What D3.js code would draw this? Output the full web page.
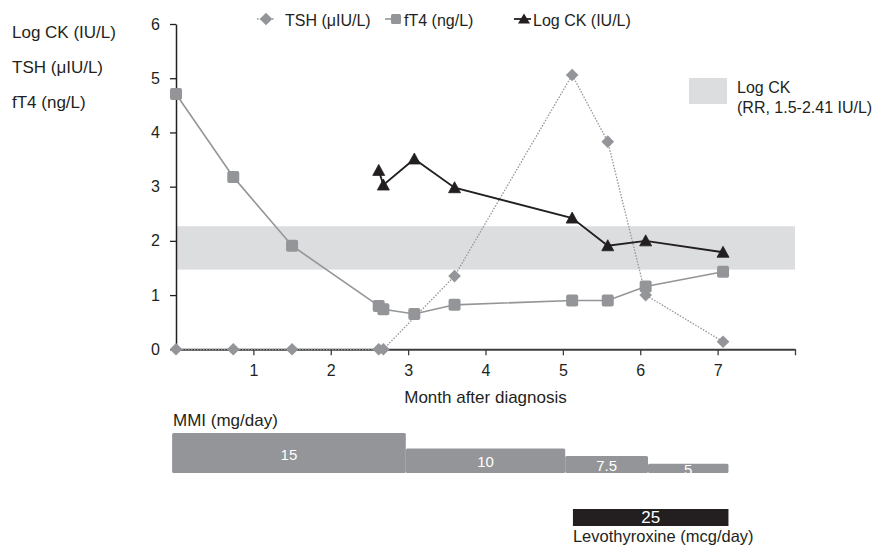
<!DOCTYPE html>
<html>
<head>
<meta charset="utf-8">
<script src="https://cdn.jsdelivr.net/npm/d3@7"></script>
<style>
  body { margin: 0; background: #fff; }
  svg { display: block; font-family: "Liberation Sans", Arial, sans-serif; }
</style>
</head>
<body>
<svg id="chart" width="881" height="547"></svg>
<script>
// visit months (x) and values per series, null = not measured
const visitMonth = [0, 0.74, 1.5, 2.62, 2.68, 3.08, 3.6, 5.12, 5.58, 6.07, 7.07];
const ft4Vals = [4.71, 3.18, 1.91, 0.8, 0.74, 0.65, 0.82, 0.9, 0.9, 1.16, 1.43];
const tshVals = [0, 0, 0, 0, 0, null, 1.35, 5.06, 3.83, 1.0, 0.14];
const ckVals = [null, null, null, 3.3, 3.03, 3.51, 2.98, 2.42, 1.91, 2.0, 1.79];

// band drawn for the Log CK reference range
const ckBand = [1.47, 2.27];

const yTicks = [0, 1, 2, 3, 4, 5, 6];
const xTicks = [1, 2, 3, 4, 5, 6, 7, 8];

// MMI dose periods
const mmiStart = [-0.05, 2.97, 5.03, 6.1];
const mmiEnd = [2.97, 5.03, 6.1, 7.14];
const mmiDose = [15, 10, 7.5, 5];

// levothyroxine period
const levoStart = [5.13];
const levoEnd = [7.14];
const levoDose = [25];

const grey = "#939598";
const ink = "#231f20";

const svg = d3.select("#chart");

const x = d3.scaleLinear().domain([0, 8]).range([176, 795]);
const y = d3.scaleLinear().domain([0, 6]).range([349.3, 24]);

// reference band
svg.append("rect")
  .attr("x", x(0))
  .attr("y", y(ckBand[1]))
  .attr("width", x(8) - x(0))
  .attr("height", y(ckBand[0]) - y(ckBand[1]))
  .attr("fill", "#dcdddf");

// axes
const yAxis = svg.append("g")
  .attr("transform", `translate(${x(0)},0)`)
  .call(d3.axisLeft(y).tickValues(yTicks).tickSize(6).tickSizeOuter(0).tickPadding(10)
    .tickFormat(d3.format("d")));
yAxis.selectAll("text").attr("font-size", 16).attr("fill", ink).attr("font-family", "Liberation Sans, Arial, sans-serif");
yAxis.selectAll("line").attr("stroke", ink).attr("stroke-width", 1.3);
yAxis.select(".domain").attr("stroke", ink).attr("stroke-width", 1.5);

const xAxis = svg.append("g")
  .attr("transform", `translate(0,${y(0)})`)
  .call(d3.axisBottom(x).tickValues(xTicks).tickSize(6).tickSizeOuter(0).tickPadding(9)
    .tickFormat(d => d === 8 ? "" : d));
xAxis.selectAll("text").attr("font-size", 16).attr("fill", ink).attr("font-family", "Liberation Sans, Arial, sans-serif");
xAxis.selectAll("line").attr("stroke", "#3c3c3c").attr("stroke-width", 1.3);
xAxis.select(".domain").attr("stroke", "#3c3c3c").attr("stroke-width", 2);

svg.append("text")
  .attr("x", (x(0) + x(8)) / 2)
  .attr("y", 403)
  .attr("text-anchor", "middle")
  .attr("font-size", 17)
  .attr("fill", ink)
  .text("Month after diagnosis");

// series helpers
function pts(vals) {
  return visitMonth.map((m, i) => ({ m: m, v: vals[i] })).filter(d => d.v !== null);
}
const line = d3.line().x(d => x(d.m)).y(d => y(d.v));

const tshPts = pts(tshVals);
const ft4Pts = pts(ft4Vals);
const ckPts = pts(ckVals);

// TSH (dotted + diamonds)
svg.append("path")
  .datum(tshPts)
  .attr("d", line)
  .attr("fill", "none")
  .attr("stroke", grey)
  .attr("stroke-width", 1.3)
  .attr("stroke-dasharray", "1.5,1.5");

const diamond = d3.symbol().type(d3.symbolSquare).size(80);
svg.selectAll(".tsh")
  .data(tshPts)
  .join("path")
  .attr("class", "tsh")
  .attr("d", diamond)
  .attr("transform", d => `translate(${x(d.m)},${y(d.v)}) rotate(45)`)
  .attr("fill", grey);

// fT4 (solid + squares)
svg.append("path")
  .datum(ft4Pts)
  .attr("d", line)
  .attr("fill", "none")
  .attr("stroke", grey)
  .attr("stroke-width", 1.6);

svg.selectAll(".ft4")
  .data(ft4Pts)
  .join("rect")
  .attr("class", "ft4")
  .attr("x", d => x(d.m) - 6)
  .attr("y", d => y(d.v) - 6)
  .attr("width", 12)
  .attr("height", 12)
  .attr("rx", 2)
  .attr("fill", grey);

// Log CK (black + triangles)
svg.append("path")
  .datum(ckPts)
  .attr("d", line)
  .attr("fill", "none")
  .attr("stroke", ink)
  .attr("stroke-width", 1.8);

const tri = "M0,-6L6,5L-6,5Z";
svg.selectAll(".ck")
  .data(ckPts)
  .join("path")
  .attr("class", "ck")
  .attr("d", tri)
  .attr("stroke", ink)
  .attr("stroke-width", 0.8)
  .attr("stroke-linejoin", "round")
  .attr("transform", d => `translate(${x(d.m)},${y(d.v)})`)
  .attr("fill", ink);

// left labels
const leftLabels = ["Log CK (IU/L)", "TSH (μIU/L)", "fT4 (ng/L)"];
svg.selectAll(".leftlab")
  .data(leftLabels)
  .join("text")
  .attr("class", "leftlab")
  .attr("x", 12)
  .attr("y", (d, i) => 38 + i * 35)
  .attr("font-size", 17)
  .attr("fill", ink)
  .text(d => d);

// top legend
const legY = 19;
const lg = svg.append("g");
lg.append("line").attr("x1", 257).attr("x2", 275).attr("y1", legY).attr("y2", legY)
  .attr("stroke", grey).attr("stroke-width", 1.3).attr("stroke-dasharray", "1.5,1.5");
lg.append("path").attr("d", diamond).attr("transform", `translate(266,${legY}) rotate(45)`).attr("fill", grey);
lg.append("text").attr("x", 285).attr("y", legY + 7).attr("font-size", 16).attr("fill", ink).text("TSH (μIU/L)");

lg.append("line").attr("x1", 385).attr("x2", 401).attr("y1", legY).attr("y2", legY)
  .attr("stroke", grey).attr("stroke-width", 1.6);
lg.append("rect").attr("x", 391).attr("y", legY - 5).attr("width", 10).attr("height", 10).attr("rx", 1.5).attr("fill", grey);
lg.append("text").attr("x", 404).attr("y", legY + 7).attr("font-size", 16).attr("fill", ink).text("fT4 (ng/L)");

lg.append("line").attr("x1", 514).attr("x2", 531).attr("y1", legY).attr("y2", legY)
  .attr("stroke", ink).attr("stroke-width", 1.8);
lg.append("path").attr("d", "M0,-5.5L6,4.5L-6,4.5Z").attr("transform", `translate(524,${legY})`).attr("fill", ink);
lg.append("text").attr("x", 533).attr("y", legY + 7).attr("font-size", 16).attr("fill", ink).text("Log CK (IU/L)");

// band legend
svg.append("rect").attr("x", 689).attr("y", 78).attr("width", 38).attr("height", 26).attr("fill", "#dcdddf");
svg.append("text").attr("x", 737).attr("y", 93).attr("font-size", 16).attr("fill", ink).text("Log CK");
svg.append("text").attr("x", 737).attr("y", 113).attr("font-size", 16).attr("fill", ink).text("(RR, 1.5-2.41 IU/L)");

// MMI dose bars
const barBase = 473;
const hDose = d3.scaleLinear().domain([2, 15]).range([0, 40]);
const mmi = mmiDose.map((d, i) => ({ s: mmiStart[i], e: mmiEnd[i], dose: d }));

svg.append("text").attr("x", 173).attr("y", 426).attr("font-size", 17).attr("fill", ink).text("MMI (mg/day)");

svg.selectAll(".mmi")
  .data(mmi)
  .join("rect")
  .attr("class", "mmi")
  .attr("x", d => x(d.s))
  .attr("y", d => barBase - hDose(d.dose))
  .attr("width", d => x(d.e) - x(d.s))
  .attr("height", d => hDose(d.dose))
  .attr("rx", 1.5)
  .attr("fill", grey);

svg.selectAll(".mmilab")
  .data(mmi)
  .join("text")
  .attr("class", "mmilab")
  .attr("x", d => (x(d.s) + x(d.e)) / 2)
  .attr("y", d => barBase - hDose(d.dose) / 2 + 6.5)
  .attr("text-anchor", "middle")
  .attr("font-size", 15)
  .attr("fill", "#fff")
  .text(d => d.dose);

// levothyroxine bar
const levo = levoDose.map((d, i) => ({ s: levoStart[i], e: levoEnd[i], dose: d }));
svg.selectAll(".levo")
  .data(levo)
  .join("rect")
  .attr("class", "levo")
  .attr("x", d => x(d.s))
  .attr("y", 509)
  .attr("width", d => x(d.e) - x(d.s))
  .attr("height", 17)
  .attr("fill", ink);

svg.selectAll(".levolab")
  .data(levo)
  .join("text")
  .attr("class", "levolab")
  .attr("x", d => (x(d.s) + x(d.e)) / 2)
  .attr("y", 523)
  .attr("text-anchor", "middle")
  .attr("font-size", 17)
  .attr("fill", "#fff")
  .text(d => d.dose);

svg.append("text").attr("x", x(levoStart[0])).attr("y", 542).attr("font-size", 16.5).attr("fill", ink)
  .text("Levothyroxine (mcg/day)");
</script>
</body>
</html>
